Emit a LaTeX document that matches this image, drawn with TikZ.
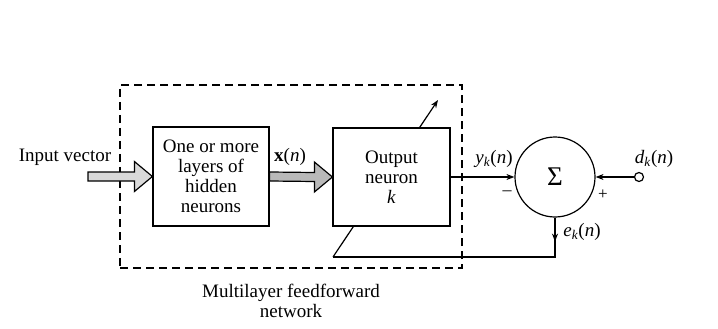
\documentclass[tikz,border=0pt]{standalone}
\usepackage{fontspec}
\setmainfont{Liberation Serif}
\usetikzlibrary{arrows.meta,calc}

\tikzset{
  lbl/.style={font=\fontsize{19}{20}\selectfont, inner sep=0pt, align=center},
  blockbox/.style={draw, line width=1.2pt, fill=white, inner sep=0pt,
    font=\fontsize{19}{20}\selectfont, align=center},
  netbox/.style={draw, line width=1.2pt, dash pattern=on 8pt off 5pt, inner sep=0pt},
  fatarrow/.style={draw, line width=1.2pt, line join=miter},
  wire/.style={line width=1.2pt},
  tip/.style={-{Stealth[length=8pt,width=6pt]}},
}

\begin{document}
\begin{tikzpicture}[x=1pt, y=-1pt]
  \useasboundingbox (0,0) rectangle (718,329);

  % dashed outline of the multilayer network
  \node[netbox, minimum width=342pt, minimum height=183pt] (net) at (291,176.5) {};

  % summing junction
  \node[circle, draw, line width=1.2pt, minimum size=80pt, inner sep=0pt] (sum) at (555,177)
    {\fontsize{27}{27}\selectfont Σ};

  % error feedback line, running on to the adaptive-weight arrow
  \coordinate (fbcorner) at (555,257);
  \coordinate (fbleft) at (333,257);
  \coordinate (adapt) at (438,100);
  \draw[wire, tip] (fbleft) -- (adapt);
  \draw[wire] (sum.south) -- (fbcorner) -- (fbleft);
  \draw[wire, tip] (sum.south) -- ($(sum.south)+(0,24)$);

  % blocks
  \node[blockbox, minimum width=116pt, minimum height=99pt] (hid) at (211,176.5)
    {One or more\\layers of\\hidden\\neurons};
  \node[blockbox, minimum width=117pt, minimum height=98pt] (out) at (391.5,177)
    {Output\\neuron\\\textit{k}};

  % input vector arrow
  \coordinate (inp) at (88,176.5);
  \draw[fatarrow, fill=gray!30]
    ($(inp)+(0,-4.5)$) -- ($(hid.west)+(-18,-4.5)$) -- ($(hid.west)+(-18,-15)$)
    -- (hid.west) -- ($(hid.west)+(-18,15)$) -- ($(hid.west)+(-18,4.5)$)
    -- ($(inp)+(0,4.5)$) -- cycle;

  % x(n) arrow between the blocks
  \draw[fatarrow, fill=gray!55]
    ($(hid.east)+(0,-4.5)$) -- ($(out.west)+(-18,-4.5)$) -- ($(out.west)+(-18,-15)$)
    -- (out.west) -- ($(out.west)+(-18,15)$) -- ($(out.west)+(-18,4.5)$)
    -- ($(hid.east)+(0,4.5)$) -- cycle;

  % output and desired response into the summing junction
  \node[circle, draw, line width=1.2pt, fill=white, minimum size=9pt, inner sep=0pt] (dk) at (639,177) {};
  \draw[wire, tip] (out.east) -- (sum.west);
  \draw[wire, tip] (dk.west) -- (sum.east);

  % labels
  \node[lbl] (lin) at (65,157) {Input vector};
  \node[lbl] (lx) at (290,157) {\textbf{x}(\textit{n})};
  \node[lbl] (ly) at (494,159) {\textit{y}\textsubscript{\textit{k}}(\textit{n})};
  \node[lbl] (ld) at (654,159) {\textit{d}\textsubscript{\textit{k}}(\textit{n})};
  \node[lbl] (le) at (582,232) {\textit{e}\textsubscript{\textit{k}}(\textit{n})};
  \node[lbl, font=\fontsize{18}{18}\selectfont] (lminus) at (507,193) {\textendash};
  \node[lbl, font=\fontsize{17}{17}\selectfont] (lplus) at (603,195) {+};
  \node[lbl] (lnet) at (291,301) {Multilayer feedforward\\network};
\end{tikzpicture}
\end{document}
